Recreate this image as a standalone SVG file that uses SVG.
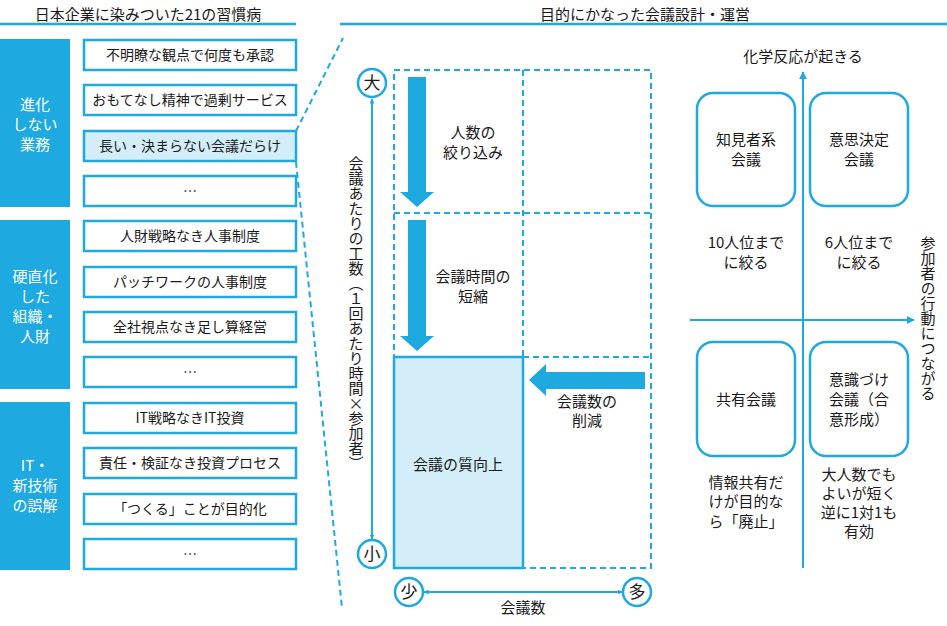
<svg xmlns="http://www.w3.org/2000/svg" width="947" height="626" viewBox="0 0 947 626">
<style>
text{font-family:"Noto Sans CJK JP","Noto Sans",sans-serif;font-size:15px;fill:#1a1a1a;text-anchor:middle}
.cat{fill:#1EA9E0}
.cat-t{fill:#ffffff;font-size:15px}
.it{font-size:14px}
.item{fill:#ffffff;stroke:#1EA9E0;stroke-width:2.5}
.item-hl{fill:#D3EEF9;stroke:#1EA9E0;stroke-width:2.5}
.hdr{stroke:#1EA9E0;stroke-width:2.5}
.dash{fill:none;stroke:#1EA9E0;stroke-width:2;stroke-dasharray:6 4}
.ax{stroke:#1EA9E0;stroke-width:2;fill:none}
.circ{fill:#ffffff;stroke:#1EA9E0;stroke-width:2.5}
.ct{font-size:17px}
.big{fill:#1EA9E0}
.rbox{fill:#ffffff;stroke:#1EA9E0;stroke-width:2.5}
.vert{writing-mode:vertical-rl}
</style>
<defs>
<marker id="ah" viewBox="0 0 10 10" refX="9" refY="5" markerWidth="5" markerHeight="5" orient="auto-start-reverse" markerUnits="userSpaceOnUse">
<path d="M0,0 L10,5 L0,10 z" fill="#1EA9E0"/>
</marker>
<marker id="ah2" viewBox="0 0 10 10" refX="9" refY="5" markerWidth="8" markerHeight="8" orient="auto-start-reverse" markerUnits="userSpaceOnUse">
<path d="M0,0 L10,5 L0,10 z" fill="#1EA9E0"/>
</marker>
</defs>

<g id="headers">
<text x="148" y="20">日本企業に染みついた21の習慣病</text>
<line class="hdr" x1="0" y1="24" x2="296" y2="24"/>
<text x="645" y="20">目的にかなった会議設計・運営</text>
<line class="hdr" x1="340" y1="24" x2="947" y2="24"/>
</g>

<g id="cat1"><rect class="cat" x="0" y="39" width="70" height="168"/>
<text class="cat-t" x="35" y="110"><tspan x="35">進化</tspan><tspan x="35" dy="20">しない</tspan><tspan x="35" dy="20">業務</tspan></text></g>
<g id="cat2"><rect class="cat" x="0" y="220" width="70" height="169"/>
<text class="cat-t" x="35" y="282"><tspan x="35">硬直化</tspan><tspan x="35" dy="20">した</tspan><tspan x="35" dy="20">組織・</tspan><tspan x="35" dy="20">人財</tspan></text></g>
<g id="cat3"><rect class="cat" x="0" y="402" width="70" height="168"/>
<text class="cat-t" x="35" y="471"><tspan x="35">IT・</tspan><tspan x="35" dy="20">新技術</tspan><tspan x="35" dy="20">の誤解</tspan></text></g>

<g id="i1"><rect class="item" x="84" y="40" width="212" height="30"/><text class="it" x="190" y="60">不明瞭な観点で何度も承認</text></g>
<g id="i2"><rect class="item" x="84" y="85" width="212" height="30"/><text class="it" x="190" y="105">おもてなし精神で過剰サービス</text></g>
<g id="i3"><rect class="item-hl" x="84" y="131" width="212" height="30"/><text class="it" x="190" y="151">長い・決まらない会議だらけ</text></g>
<g id="i4"><rect class="item" x="84" y="176" width="212" height="30"/><text class="it" x="190" y="196">…</text></g>
<g id="i5"><rect class="item" x="84" y="221" width="212" height="30"/><text class="it" x="190" y="241">人財戦略なき人事制度</text></g>
<g id="i6"><rect class="item" x="84" y="267" width="212" height="30"/><text class="it" x="190" y="287">パッチワークの人事制度</text></g>
<g id="i7"><rect class="item" x="84" y="312" width="212" height="30"/><text class="it" x="190" y="332">全社視点なき足し算経営</text></g>
<g id="i8"><rect class="item" x="84" y="357" width="212" height="30"/><text class="it" x="190" y="377">…</text></g>
<g id="i9"><rect class="item" x="84" y="403" width="212" height="30"/><text class="it" x="190" y="423">IT戦略なきIT投資</text></g>
<g id="i10"><rect class="item" x="84" y="448" width="212" height="30"/><text class="it" x="190" y="468">責任・検証なき投資プロセス</text></g>
<g id="i11"><rect class="item" x="84" y="494" width="212" height="30"/><text class="it" x="190" y="514">「つくる」ことが目的化</text></g>
<g id="i12"><rect class="item" x="84" y="539" width="212" height="30"/><text class="it" x="190" y="559">…</text></g>

<g id="connectors">
<line class="dash" x1="296" y1="131" x2="343" y2="38"/>
<line class="dash" x1="296" y1="162" x2="342" y2="608"/>
<line class="ax" x1="372" y1="99" x2="372" y2="539" marker-start="url(#ah)" marker-end="url(#ah)"/>
<line class="ax" x1="424" y1="592" x2="622" y2="592" marker-start="url(#ah)" marker-end="url(#ah)"/>
<line class="ax" x1="803" y1="568" x2="803" y2="72" marker-end="url(#ah2)"/>
<line class="ax" x1="690" y1="320" x2="914" y2="320" marker-end="url(#ah2)"/>
</g>

<g id="chart">
<rect x="394" y="357" width="129" height="211" fill="#D3EEF9" stroke="none"/>
<rect class="dash" x="394" y="70" width="257" height="498"/>
<line class="dash" x1="523" y1="70" x2="523" y2="357"/>
<line class="dash" x1="394" y1="213" x2="651" y2="213"/>
<line class="dash" x1="523" y1="357" x2="651" y2="357"/>
<rect x="394" y="357" width="129" height="211" fill="none" stroke="#1EA9E0" stroke-width="2.5"/>
</g>

<g id="arrow1"><path class="big" d="M408,77 H426 V192 H434 L417,207 L400,192 H408 Z"/></g>
<g id="arrow2"><path class="big" d="M408,220 H426 V336 H434 L417,351 L400,336 H408 Z"/></g>
<g id="arrow3"><path class="big" d="M645,372 V389 H546 V396 L529,380 L546,364 V372 Z"/></g>

<g id="lbl-chart">
<text x="473" y="138">人数の</text><text x="473" y="158">絞り込み</text>
<text x="473" y="282">会議時間の</text><text x="473" y="302">短縮</text>
<text x="587" y="407">会議数の</text><text x="587" y="426">削減</text>
<text x="458" y="470">会議の質向上</text>
</g>

<g id="c-dai"><circle class="circ" cx="372" cy="83" r="14"/><text class="ct" x="372" y="89">大</text></g>
<g id="c-sho"><circle class="circ" cx="372" cy="554" r="14"/><text class="ct" x="372" y="560">小</text></g>
<g id="c-sho2"><circle class="circ" cx="409" cy="592" r="14"/><text class="ct" x="409" y="598">少</text></g>
<g id="c-ta"><circle class="circ" cx="637" cy="592" r="14"/><text class="ct" x="637" y="598">多</text></g>

<g id="axis-labels">
<text class="vert" x="356" y="313">会議あたりの工数（１回あたり時間×参加者）</text>
<text x="523" y="613">会議数</text>
<text x="803" y="62">化学反応が起きる</text>
<text class="vert" x="928" y="318">参加者の行動につながる</text>
</g>

<g id="q1"><rect class="rbox" x="697" y="93" width="98" height="113" rx="16"/>
<text x="746" y="145">知見者系</text><text x="746" y="165">会議</text></g>
<g id="q2"><rect class="rbox" x="810" y="93" width="98" height="113" rx="16"/>
<text x="859" y="145">意思決定</text><text x="859" y="165">会議</text></g>
<g id="q3"><rect class="rbox" x="697" y="342" width="98" height="114" rx="16"/>
<text x="746" y="405">共有会議</text></g>
<g id="q4"><rect class="rbox" x="810" y="342" width="98" height="114" rx="16"/>
<text x="859" y="385">意識づけ</text><text x="859" y="405">会議（合</text><text x="859" y="425">意形成）</text></g>

<g id="notes">
<text x="746" y="248">10人位まで</text><text x="746" y="268">に絞る</text>
<text x="859" y="248">6人位まで</text><text x="859" y="268">に絞る</text>
<text x="746" y="488">情報共有だ</text><text x="746" y="507">けが目的な</text><text x="746" y="527">ら「廃止」</text>
<text x="859" y="480">大人数でも</text><text x="859" y="499">よいが短く</text><text x="859" y="518">逆に1対1も</text><text x="859" y="537">有効</text>
</g>
</svg>
